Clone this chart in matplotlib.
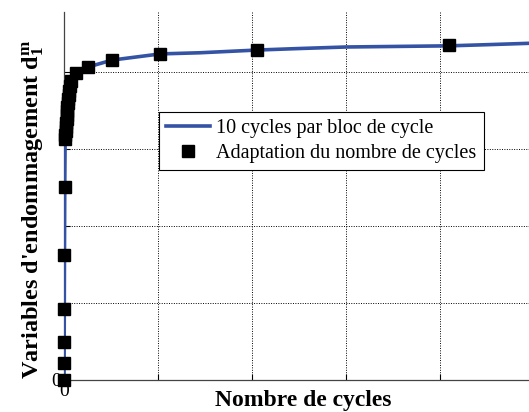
import numpy as np
import matplotlib.pyplot as plt

plt.rcParams['font.family'] = ['Liberation Serif', 'DejaVu Serif']
plt.rcParams['mathtext.fontset'] = 'custom'
plt.rcParams['mathtext.rm'] = 'Liberation Serif'
plt.rcParams['mathtext.bf'] = 'Liberation Serif:bold'

# damage variable for 10 cycles per block (reference curve)
n_ref = [0, 1, 2, 3, 5, 8, 12, 20, 28, 36, 45, 56, 70, 92, 128, 256, 512,
         1024, 1447, 2048, 2500, 3000, 4096, 4500, 5000]
d_ref = [0.0, 0.044, 0.099, 0.185, 0.325, 0.502, 0.627, 0.647, 0.668, 0.689,
         0.710, 0.731, 0.751, 0.777, 0.798, 0.814, 0.832, 0.848, 0.851,
         0.858, 0.862, 0.866, 0.869, 0.872, 0.876]

# adaptive number of cycles per block
n_adapt = [0, 1, 2, 3, 5, 8, 12, 15, 18, 21, 24, 27, 30, 33, 36, 40, 44, 48,
           53, 60, 70, 128, 256, 512, 1024, 2048, 4096]
d_adapt = [0.0, 0.044, 0.099, 0.185, 0.325, 0.502, 0.627, 0.637, 0.647,
           0.658, 0.668, 0.679, 0.689, 0.699, 0.710, 0.720, 0.731, 0.741,
           0.751, 0.764, 0.777, 0.798, 0.814, 0.832, 0.848, 0.858, 0.871]

xticks = [0, 1000, 2000, 3000, 4000, 5000]
yticks = [0, 0.2, 0.4, 0.6, 0.8]

fig = plt.figure(figsize=(5.29, 4.12), dpi=100)
ax = fig.add_axes([64 / 529, 32 / 412, 470 / 529, 368 / 412])

ax.plot(n_ref, d_ref, color='#3553a4', lw=2.6,
        label='10 cycles par bloc de cycle', zorder=3)
ax.plot(n_adapt, d_adapt, ls='none', marker='s', ms=9, color='black',
        label='Adaptation du nombre de cycles', zorder=4, clip_on=False)

ax.set_xlim(0, 5000)
ax.set_ylim(0, 0.957)
ax.set_xticks(xticks)
ax.set_yticks(yticks)
ax.set_xticklabels(['0'] + [''] * (len(xticks) - 1))
ax.set_yticklabels(['0'] + [''] * (len(yticks) - 1))
ax.tick_params(direction='in', length=4, width=0.8, labelsize=14, pad=2)
ax.grid(True, color='black', ls=(0, (1, 1.5)), lw=0.7)
ax.spines['top'].set_visible(False)
ax.spines['right'].set_visible(False)
for s in ['left', 'bottom']:
    ax.spines[s].set_color('#444444')
    ax.spines[s].set_linewidth(0.9)

ax.set_xlabel('Nombre de cycles', fontsize=17, fontweight='bold')
ax.xaxis.set_label_coords(0.51, -0.057)
ax.xaxis.label.set_va('center')
ax.set_ylabel(r"Variables d'endommagement $\mathbf{d_1^m}$", fontsize=17.5,
              fontweight='bold')
ax.yaxis.set_label_coords(-0.066, 0.465)
ax.yaxis.label.set_va('center')

leg = ax.legend(loc='upper left', bbox_to_anchor=(95 / 470, (380 - 112) / 368),
                fontsize=14.5, frameon=True, fancybox=False, framealpha=1,
                edgecolor='black', borderpad=0.35, handlelength=2.2,
                handletextpad=0.3, labelspacing=0.3, borderaxespad=0)
leg.get_frame().set_linewidth(0.8)

fig.savefig('out.png', dpi=100)
